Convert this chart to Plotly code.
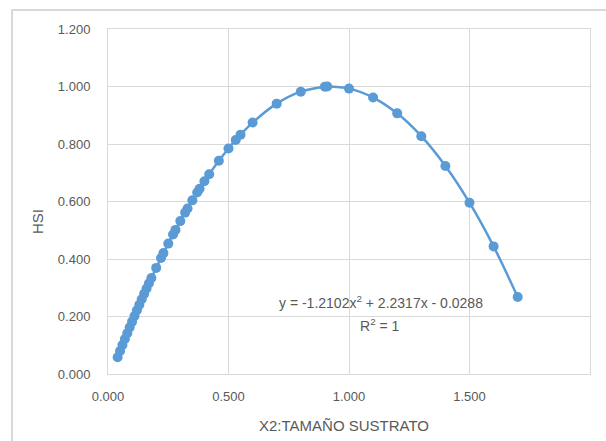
import plotly.graph_objects as go

x_vals = [0.04, 0.05, 0.06, 0.07, 0.08, 0.09, 0.10, 0.11, 0.12, 0.13, 0.14, 0.15, 0.16, 0.17, 0.18,
          0.20, 0.22, 0.23, 0.25, 0.27, 0.28, 0.30, 0.32, 0.33, 0.35, 0.37, 0.38, 0.40, 0.42, 0.46,
          0.50, 0.53, 0.55, 0.60, 0.70, 0.80, 0.90, 0.91, 1.00, 1.10, 1.20, 1.30, 1.40, 1.50, 1.60, 1.70]
hsi_vals = [0.0585, 0.0798, 0.1007, 0.1215, 0.1420, 0.1623, 0.1823, 0.2020, 0.2216, 0.2409, 0.2599,
            0.2787, 0.2973, 0.3156, 0.3337, 0.3691, 0.4036, 0.4205, 0.4535, 0.4855, 0.5012, 0.5318,
            0.5614, 0.5759, 0.6040, 0.6313, 0.6445, 0.6702, 0.6950, 0.7417, 0.7845, 0.8141, 0.8325,
            0.8745, 0.9404, 0.9820, 0.9995, 0.9999, 0.9927, 0.9617, 0.9066, 0.8272, 0.7236, 0.5958,
            0.4438, 0.2676]
x_ticks = [0.0, 0.5, 1.0, 1.5, 2.0]
y_ticks = [0.0, 0.2, 0.4, 0.6, 0.8, 1.0, 1.2]
equation = "y = -1.2102x<sup>2</sup> + 2.2317x - 0.0288"
r2_text = "R<sup>2</sup> = 1"

FONT = "Liberation Sans Narrow, Arial Narrow, Liberation Sans, sans-serif"
GREY = "#595959"
GRID = "#D9D9D9"
BLUE = "#5B9BD5"

fig = go.Figure()
fig.add_trace(go.Scatter(
    x=x_vals, y=hsi_vals, mode="lines+markers",
    line=dict(color=BLUE, width=2.5, shape="spline"),
    marker=dict(color=BLUE, size=10),
    showlegend=False,
))

axis_common = dict(
    showgrid=True, gridcolor=GRID, gridwidth=1,
    showline=True, linecolor=GRID, linewidth=1, mirror=True,
    zeroline=False, ticks="", tickfont=dict(family=FONT, size=13, color=GREY),
    tickformat=".3f",
)
fig.update_xaxes(range=[0, 2.0], tickvals=x_ticks, ticklabelstandoff=10, **axis_common)
fig.update_yaxes(range=[0, 1.2], tickvals=y_ticks, ticklabelstandoff=14, **axis_common)

fig.update_layout(
    width=606, height=441,
    margin=dict(l=108, r=16, t=29, b=67),
    paper_bgcolor="white", plot_bgcolor="white",
    font=dict(family=FONT, color=GREY),
    shapes=[dict(type="rect", xref="paper", yref="paper",
                 x0=(12 - 108) / 482, x1=(612 - 108) / 482,
                 y0=(374 - 450) / 345, y1=(374 - 10) / 345,
                 line=dict(color=GRID, width=2), fillcolor="rgba(0,0,0,0)", layer="below")],
    annotations=[
        dict(text=equation, xref="paper", yref="paper", x=(381 - 108) / 482, y=(374 - 302) / 345,
             showarrow=False, font=dict(family=FONT, size=14, color=GREY), xanchor="center", yanchor="middle"),
        dict(text=r2_text, xref="paper", yref="paper", x=(380 - 108) / 482, y=(374 - 325) / 345,
             showarrow=False, font=dict(family=FONT, size=14, color=GREY), xanchor="center", yanchor="middle"),
        dict(text="X2:TAMAÑO SUSTRATO", xref="paper", yref="paper", x=(344 - 108) / 482, y=(374 - 425) / 345,
             showarrow=False, font=dict(family=FONT, size=15, color=GREY), xanchor="center", yanchor="middle"),
        dict(text="HSI", xref="paper", yref="paper", x=(38 - 108) / 482, y=(374 - 222) / 345,
             showarrow=False, textangle=-90, font=dict(family=FONT, size=15, color=GREY),
             xanchor="center", yanchor="middle"),
    ],
)

fig.write_html("out.html")
